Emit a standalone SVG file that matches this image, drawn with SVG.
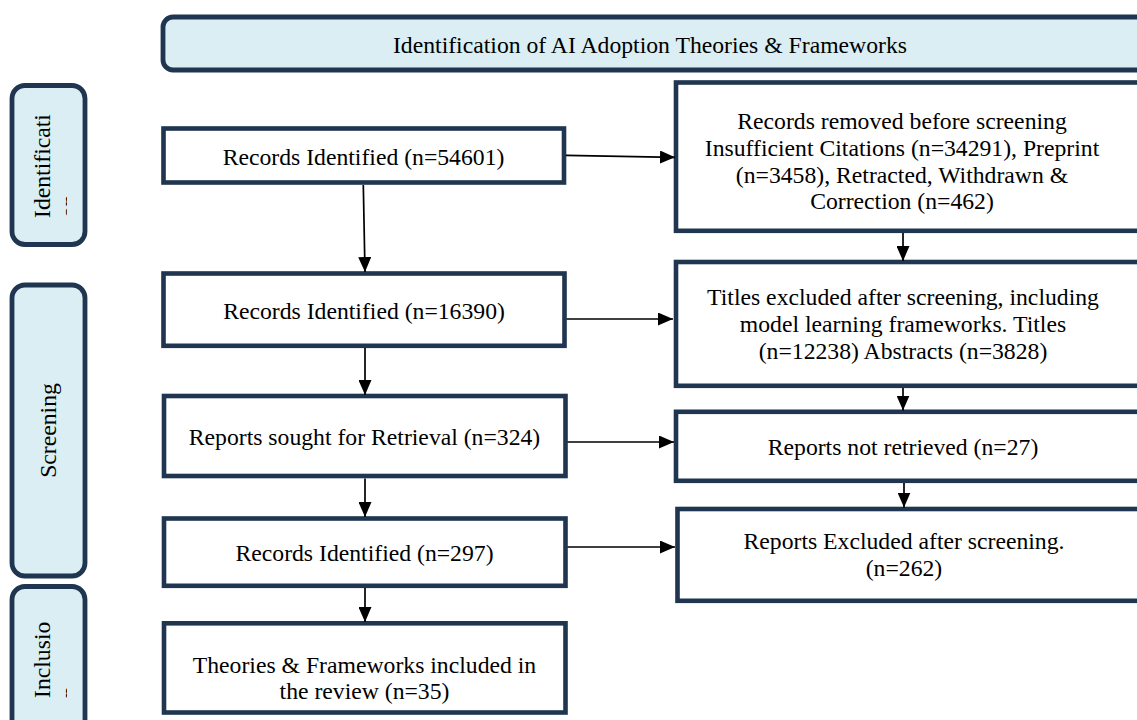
<svg xmlns="http://www.w3.org/2000/svg" width="1137" height="720" viewBox="0 0 1137 720">
<style>
text{font-family:"Liberation Serif","Times New Roman",serif;font-size:23.7px;fill:#000}
.c{text-anchor:middle}
.box{fill:#fff;stroke:#1F3550;stroke-width:4.6}
.hd{fill:#DAEEF3;stroke:#1F3550;stroke-width:4.8}
.ln{stroke:#000;stroke-width:1.7;fill:none;marker-end:url(#ah)}
</style>
<defs>
<marker id="ah" markerUnits="userSpaceOnUse" markerWidth="15" markerHeight="13" refX="15" refY="6.5" orient="auto">
<path d="M0,0 L15,6.5 L0,13 z" fill="#000"/>
</marker>
<clipPath id="clipId"><rect x="14" y="88" width="53" height="154"/></clipPath>
<clipPath id="clipIn"><rect x="14" y="589" width="53" height="140"/></clipPath>
</defs>

<g id="banner">
<rect class="hd" x="163" y="17" width="1000" height="53" rx="10"/>
<text class="c" x="650" y="53">Identification of AI Adoption Theories &amp; Frameworks</text>
</g>

<g id="phase-identification">
<rect class="hd" x="12" y="85.5" width="73" height="159" rx="13"/>
<g clip-path="url(#clipId)">
<text transform="translate(50,218) rotate(-90)">Identificati</text>
<text transform="translate(77,218) rotate(-90)">on</text>
</g>
</g>

<g id="phase-screening">
<rect class="hd" x="12" y="285" width="73" height="291" rx="13"/>
<text class="c" transform="translate(56,430.5) rotate(-90)">Screening</text>
</g>

<g id="phase-inclusion">
<rect class="hd" x="12" y="586.5" width="73" height="150" rx="13"/>
<g clip-path="url(#clipIn)">
<text transform="translate(50,698) rotate(-90)">Inclusio</text>
<text transform="translate(77,698) rotate(-90)">n</text>
</g>
</g>

<g id="n1">
<rect class="box" x="163.5" y="128.5" width="400.5" height="54"/>
<text class="c" x="363.5" y="165">Records Identified (n=54601)</text>
</g>
<g id="n2">
<rect class="box" x="163.5" y="273.5" width="401" height="72.3"/>
<text class="c" x="364" y="319.3">Records Identified (n=16390)</text>
</g>
<g id="n3">
<rect class="box" x="164" y="396" width="401.5" height="80"/>
<text class="c" x="364.5" y="445">Reports sought for Retrieval (n=324)</text>
</g>
<g id="n4">
<rect class="box" x="164" y="518.5" width="401.5" height="67.3"/>
<text class="c" x="364.5" y="560.7">Records Identified (n=297)</text>
</g>
<g id="n5">
<rect class="box" x="164" y="623.3" width="401.5" height="89.2"/>
<text class="c" x="364.5" y="672.5">Theories &amp; Frameworks included in</text>
<text class="c" x="364.5" y="698.5">the review (n=35)</text>
</g>

<g id="rA">
<rect class="box" x="676" y="82.5" width="500" height="148.3"/>
<text class="c" x="902" y="128.5">Records removed before screening</text>
<text class="c" x="902" y="155.5">Insufficient Citations (n=34291), Preprint</text>
<text class="c" x="902" y="182.5">(n=3458), Retracted, Withdrawn &amp;</text>
<text class="c" x="902" y="209">Correction (n=462)</text>
</g>
<g id="rB">
<rect class="box" x="676" y="262" width="500" height="123.8"/>
<text class="c" x="903" y="305">Titles excluded after screening, including</text>
<text class="c" x="903" y="332">model learning frameworks. Titles</text>
<text class="c" x="903" y="359">(n=12238) Abstracts (n=3828)</text>
</g>
<g id="rC">
<rect class="box" x="676" y="411.8" width="500" height="69"/>
<text class="c" x="903" y="455">Reports not retrieved (n=27)</text>
</g>
<g id="rD">
<rect class="box" x="677.5" y="509" width="500" height="91.8"/>
<text class="c" x="904" y="548.5">Reports Excluded after screening.</text>
<text class="c" x="904" y="576">(n=262)</text>
</g>

<g id="connectors">
<path class="ln" d="M566,155.3 L675,157.3"/>
<path class="ln" d="M363.3,185 L365,272"/>
<path class="ln" d="M566.5,319 L673,319"/>
<path class="ln" d="M567.5,442 L674,442"/>
<path class="ln" d="M567.5,547 L675,547"/>
<path class="ln" d="M365,348 L365,395"/>
<path class="ln" d="M365,478.5 L365,517"/>
<path class="ln" d="M365,588 L365,622"/>
<path class="ln" d="M903,233 L903,261"/>
<path class="ln" d="M903,388 L903,410.5"/>
<path class="ln" d="M904,483 L904,507.5"/>
</g>
</svg>
